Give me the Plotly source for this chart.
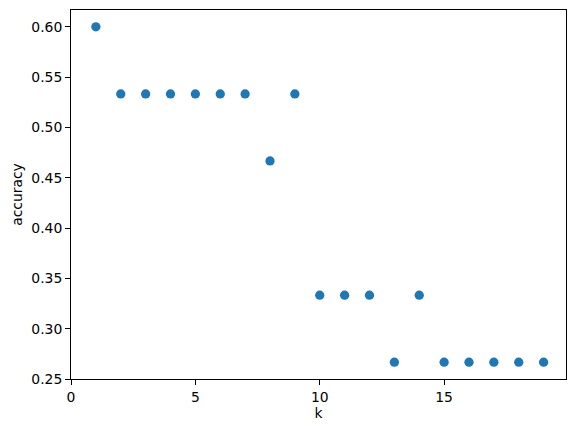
import plotly.graph_objects as go

k_values = list(range(1, 20))
accuracy = [0.6, 0.5333, 0.5333, 0.5333, 0.5333, 0.5333, 0.5333, 0.4667, 0.5333,
            0.3333, 0.3333, 0.3333, 0.2667, 0.3333, 0.2667, 0.2667, 0.2667, 0.2667, 0.2667]
x_ticks = [0, 5, 10, 15]
y_ticks = [0.25, 0.30, 0.35, 0.40, 0.45, 0.50, 0.55, 0.60]

font = dict(family="DejaVu Sans", size=13.9, color="black")

fig = go.Figure(go.Scatter(
    x=k_values, y=accuracy, mode="markers",
    marker=dict(color="#1f77b4", size=9.3, line=dict(width=0)),
))

axis_common = dict(
    showline=True, linecolor="black", linewidth=1.1, mirror=True,
    ticks="outside", ticklen=4.9, tickwidth=1.1, tickcolor="black",
    showgrid=False, zeroline=False, tickfont=font, automargin=False,
)

# page body has an 8px default margin; compensate so the plot box lands where the reference has it
fig.update_layout(
    width=576, height=432,
    margin=dict(l=63, r=18, t=2, b=61),
    paper_bgcolor="white", plot_bgcolor="white",
    showlegend=False,
    font=font,
    xaxis=dict(range=[0, 19.9], tickvals=x_ticks, ticktext=[str(v) for v in x_ticks],
               title=dict(text="k", font=font, standoff=4), **axis_common),
    yaxis=dict(range=[0.25, 0.6167], tickvals=y_ticks, ticktext=[f"{v:.2f}" for v in y_ticks],
               title=dict(text="accuracy", font=font, standoff=5), **axis_common),
)

fig.write_html("out.html")
